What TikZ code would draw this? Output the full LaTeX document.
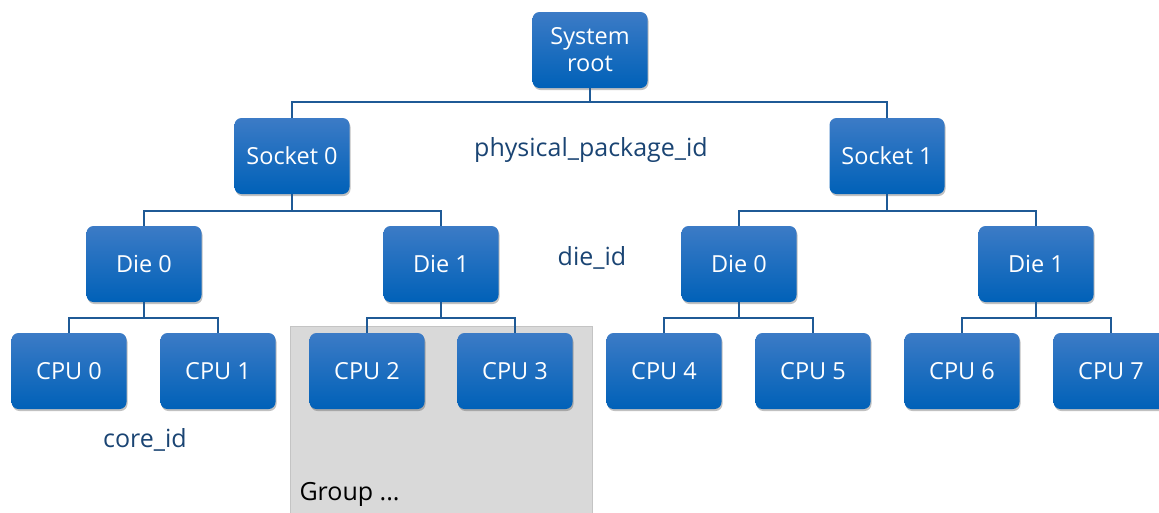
\documentclass[tikz,border=0pt]{standalone}
\usepackage{fontspec}
\setmainfont{Open Sans}
\usetikzlibrary{shadows}
\definecolor{boxtop}{HTML}{3C7BC6}
\definecolor{boxbot}{HTML}{0061B8}
\definecolor{wirecol}{HTML}{1F5A96}
\definecolor{labelblue}{HTML}{1A4473}
\definecolor{groupfill}{HTML}{D9D9D9}
\definecolor{groupedge}{HTML}{C4C4C4}
\begin{document}
\begin{tikzpicture}[x=1pt,y=-1pt,
  unit/.style={rectangle, rounded corners=7pt, minimum width=115pt, minimum height=76pt,
    top color=boxtop, bottom color=boxbot, text=white,
    font=\fontsize{23.5}{27}\selectfont, align=center,
    drop shadow={shadow xshift=1pt, shadow yshift=-2pt, opacity=0.35, fill=black!70}},
  wire/.style={draw=wirecol, line width=1.3pt},
  idlabel/.style={text=labelblue, font=\fontsize{25}{29}\selectfont},
  grouplabel/.style={text=black, font=\fontsize{25}{29}\selectfont, anchor=west}]
\useasboundingbox (0,0) rectangle (1159,512);

% shaded group region behind the second die's CPUs
\fill[groupfill, draw=groupedge, line width=1pt] (290,326) rectangle (592,530);
\node[grouplabel] (grp) at (296,494) {Group ...};

% hierarchy boxes
\node[unit] (root) at (590,50) {System\\root};
\node[unit] (s0) at (292,156) {Socket 0};
\node[unit] (s1) at (887,156) {Socket 1};
\node[unit] (d00) at (144,264) {Die 0};
\node[unit] (d01) at (441,264) {Die 1};
\node[unit] (d10) at (739,264) {Die 0};
\node[unit] (d11) at (1036,264) {Die 1};
\node[unit] (c0) at (69,371) {CPU 0};
\node[unit] (c1) at (218,371) {CPU 1};
\node[unit] (c2) at (367,371) {CPU 2};
\node[unit] (c3) at (515,371) {CPU 3};
\node[unit] (c4) at (664,371) {CPU 4};
\node[unit] (c5) at (813,371) {CPU 5};
\node[unit] (c6) at (962,371) {CPU 6};
\node[unit] (c7) at (1111,371) {CPU 7};

% level labels
\node[idlabel] (ppid) at (591,150) {physical\_package\_id};
\node[idlabel] (dieid) at (592,258) {die\_id};
\node[idlabel] (coreid) at (145,440) {core\_id};

% junction points of the tree connectors
\coordinate (jr) at (590,102);
\coordinate (js0) at (292,211);
\coordinate (js1) at (887,211);
\coordinate (jd00) at (144,318);
\coordinate (jd01) at (441,318);
\coordinate (jd10) at (739,318);
\coordinate (jd11) at (1036,318);

% connectors
\draw[wire] (root.south) -- (jr);
\draw[wire] (s0.north) |- (jr) -| (s1.north);
\draw[wire] (s0.south) -- (js0);
\draw[wire] (d00.north) |- (js0) -| (d01.north);
\draw[wire] (s1.south) -- (js1);
\draw[wire] (d10.north) |- (js1) -| (d11.north);
\draw[wire] (d00.south) -- (jd00);
\draw[wire] (c0.north) |- (jd00) -| (c1.north);
\draw[wire] (d01.south) -- (jd01);
\draw[wire] (c2.north) |- (jd01) -| (c3.north);
\draw[wire] (d10.south) -- (jd10);
\draw[wire] (c4.north) |- (jd10) -| (c5.north);
\draw[wire] (d11.south) -- (jd11);
\draw[wire] (c6.north) |- (jd11) -| (c7.north);
\end{tikzpicture}
\end{document}
